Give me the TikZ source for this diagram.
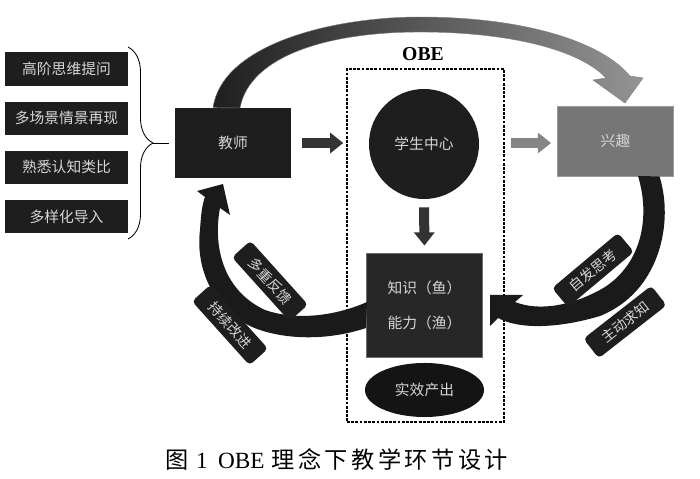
\documentclass[tikz,border=0pt]{standalone}
\usepackage{fontspec}
\setmainfont{Liberation Serif}
\newfontfamily\cjk{Noto Sans CJK SC}
\newfontfamily\cjkcap[LetterSpace=15]{Noto Sans CJK SC}
\usetikzlibrary{shapes.geometric, arrows.meta, positioning, decorations.pathreplacing}
\definecolor{boxdark}{HTML}{1E1E1E}
\definecolor{txtgray}{HTML}{D6D6D6}
\definecolor{xqfill}{HTML}{767676}
\definecolor{xqline}{HTML}{9B9B9B}
\definecolor{knowfill}{HTML}{272727}
\definecolor{knowline}{HTML}{6E6E6E}
\definecolor{arcdark}{HTML}{1A1A1A}

\begin{document}
\begin{tikzpicture}[
    x=0.025cm, y=-0.025cm,
    lbox/.style={rectangle, fill=boxdark, text=txtgray, minimum width=3.075cm,
                 minimum height=0.825cm, inner sep=0pt,
                 font=\cjk\fontsize{10.5}{12}\selectfont},
    bbox/.style={rectangle, fill=boxdark, text=txtgray, minimum width=2.9cm,
                 minimum height=1.75cm, inner sep=0pt,
                 font=\cjk\fontsize{10.5}{12}\selectfont},
    gbox/.style={bbox, fill=xqfill, draw=xqline, line width=0.6pt},
    tag/.style={rectangle, rounded corners=3pt, fill=boxdark, text=txtgray,
                minimum width=2.15cm, minimum height=0.62cm, inner sep=0pt,
                font=\cjk\fontsize{10}{12}\selectfont},
    obebox/.style={rectangle, draw=black, line width=1pt,
                   dash pattern=on 2pt off 1pt, minimum width=3.925cm,
                   minimum height=8.825cm},
    blk/.style={line width=0.25cm, draw=#1,
                -{Triangle[width=0.5cm,length=0.33cm]}},
    brc/.style={draw=black, line width=0.6pt, decorate,
                decoration={brace, amplitude=0.625cm, aspect=0.5}}
]
\useasboundingbox (0,0) rectangle (700,479);

% question boxes
\node[lbox] (q1) at (66.5,69) {高阶思维提问};
\node[lbox, below=0.39cm of q1] (q2) {多场景情景再现};
\node[lbox, below=0.39cm of q2] (q3) {熟悉认知类比};
\node[lbox, below=0.39cm of q3] (q4) {多样化导入};
\draw[brc] (128,47) -- (128,239);
\coordinate (bt) at (153,143);

\node[bbox] (teach) at (233,143) {教师};
\draw[line width=0.6pt] (bt) -- ([xshift=-0.15cm]teach.west);

% OBE frame
\node[obebox] (obe) at (425.5,245.5) {};
\node[font=\bfseries\fontsize{14}{16}\selectfont] (obelbl) at (423,54) {OBE};
\node[circle, fill=boxdark, text=txtgray, minimum size=2.75cm, inner sep=0pt,
      font=\cjk\fontsize{10.5}{12}\selectfont] (stu) at (424,144) {学生中心};
\node[rectangle, fill=knowfill, draw=knowline, line width=0.6pt, text=txtgray,
      minimum width=2.9cm, minimum height=2.6cm, align=center,
      font=\cjk\fontsize{10.5}{12}\selectfont] (know) at (424.5,305)
      {知识（鱼）\\[13pt]能力（渔）};
\node[ellipse, fill=black!92, text=txtgray, minimum width=2.975cm,
      minimum height=1.35cm, inner sep=0pt,
      font=\cjk\fontsize{10.5}{12}\selectfont] (out) at (424.5,390) {实效产出};

\node[gbox] (xq) at (615.5,141) {兴趣};

% straight block arrows
\draw[blk=black!80, shorten <=0.275cm, shorten >=0.075cm]
    (teach.east) -- (teach.east -| obe.west);
\draw[blk=black!48, shorten <=0.15cm, shorten >=0.15cm]
    (obe.east |- teach.east) -- (xq.west |- teach.east);
\draw[blk=black!80, shorten <=0.2cm, shorten >=0.175cm]
    (stu.south) -- (know.north);

% curved arrows
\shade[left color=black!88, right color=black!42, draw=black!50, line width=0.3pt]
    (teach.north) ++(-20,0) .. controls (222,45) and (330,17) .. (420,17)
    .. controls (520,17) and (600,40) .. (630,76) -- (643,78) -- (625,103)
    -- (593,80) -- (606,78) .. controls (580,50) and (510,32) .. (420,32)
    .. controls (330,32) and (250,55) .. (240,108) -- cycle;
\fill[arcdark]
    (know.west) ++(0,23) .. controls (330,340) and (290,340) .. (260,330)
    .. controls (215,315) and (195,270) .. (200,230)
    .. controls (201,215) and (202,205) .. (205,197) -- (197,191) -- (223,184)
    -- (230,215) -- (220,208) .. controls (213,245) and (222,290) .. (265,310)
    .. controls (300,322) and (340,314) .. (367,302) -- cycle;
\fill[arcdark]
    (xq.south) ++(44,0) .. controls (674,222) and (660,292) .. (600,316)
    .. controls (560,328) and (520,330) .. (498,318) -- (490,326) -- (490,295)
    -- (523,295) -- (515,302) .. controls (540,312) and (575,305) .. (605,287)
    .. controls (643,262) and (650,215) .. (638,176) -- cycle;

% labels on the curved arrows
\node[tag, rotate=-48] (fb) at (270,281) {多重反馈};
\node[tag, rotate=-48] (ci) at (230,325) {持续改进};
\node[tag, rotate=40] (sp) at (593,270) {自发思考};
\node[tag, rotate=38] (ak) at (625,322) {主动求知};

\node[inner sep=0pt, font=\fontsize{16.5}{18}\selectfont] (cap) at (337,460)
    {{\cjkcap 图}\hspace{0.3em}1\hspace{0.45em}OBE\hspace{0.3em}{\cjkcap 理念下教学环节设计}};
\end{tikzpicture}
\end{document}
